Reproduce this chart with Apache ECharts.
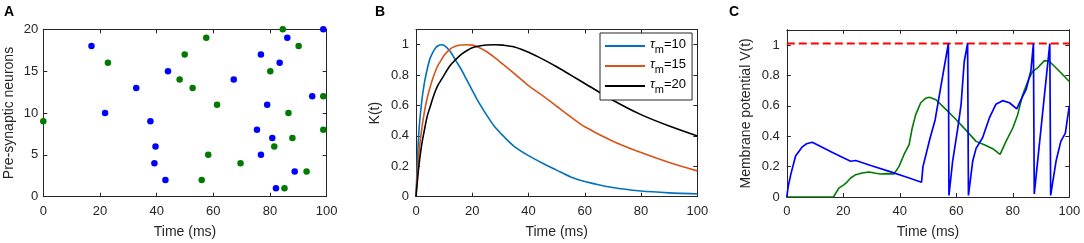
<!DOCTYPE html>
<html>
<head>
<meta charset="utf-8">
<script src="https://cdn.jsdelivr.net/npm/echarts@6/dist/echarts.min.js"></script>
<style>
  html, body { margin: 0; padding: 0; background: #fff; }
  #chart { width: 1084px; height: 243px; }
</style>
</head>
<body>
<div id="chart"></div>
<script>
  // ---- panel A: spike raster ----
  var blueSpikeT = [17, 21.8, 32.8, 37.8, 39.6, 39.2, 43.1, 44, 67.2, 76.8, 75.4, 79, 80.8, 76.8, 83.4, 86.1, 82.1, 88.7, 94.9, 98.8]
  var blueSpikeN = [18, 10, 13, 9, 6, 4, 2, 15, 14, 17, 8, 11, 7, 5, 16, 19, 1, 3, 12, 20]
  var greenSpikeT = [0, 22.8, 49.9, 48.1, 52.7, 57.5, 61.3, 58.2, 55.9, 69.6, 80.1, 84.5, 90.1, 86.5, 87.9, 81.5, 85.1, 92.9, 98.8, 98.8]
  var greenSpikeN = [9, 16, 17, 14, 13, 19, 11, 5, 2, 4, 15, 20, 18, 10, 7, 6, 1, 3, 12, 8]

  // ---- panel B: kernels ----
  var kernelT = [0, 1, 2, 3, 4, 5, 6, 7, 8, 9, 10, 12, 14, 16, 18, 20, 22, 25, 28, 31, 35, 40, 45, 50, 55, 60, 70, 80, 90, 100]
  var kernel10 = [0, 0.42, 0.62, 0.75, 0.84, 0.91, 0.95, 0.98, 0.995, 1.0, 0.995, 0.96, 0.9, 0.84, 0.77, 0.7, 0.63, 0.54, 0.46, 0.4, 0.33, 0.27, 0.22, 0.175, 0.13, 0.1, 0.06, 0.037, 0.025, 0.018]
  var kernel15 = [0, 0.28, 0.44, 0.56, 0.65, 0.72, 0.78, 0.83, 0.87, 0.9, 0.93, 0.97, 0.99, 0.998, 1.0, 0.997, 0.985, 0.955, 0.915, 0.87, 0.81, 0.73, 0.665, 0.595, 0.525, 0.46, 0.365, 0.29, 0.225, 0.17]
  var kernel20 = [0, 0.2, 0.34, 0.44, 0.53, 0.59, 0.65, 0.7, 0.74, 0.77, 0.8, 0.86, 0.9, 0.935, 0.96, 0.98, 0.99, 0.998, 1.0, 0.997, 0.985, 0.95, 0.905, 0.855, 0.8, 0.745, 0.635, 0.54, 0.465, 0.4]
  var kernelNames = ['τm=10', 'τm=15', 'τm=20']

  // ---- panel C: membrane potential ----
  var vBlueT = [0, 0.5, 1.4, 3.1, 5.5, 7, 9, 12, 16, 20, 22.6, 24.4, 30, 36, 42, 47.7, 48.2, 50.7, 52.5, 55.4, 57.2, 57.4, 58.7, 60.5, 61.7, 62.8, 64.0, 64.3, 65.8, 67, 69.3, 71.7, 74, 76.4, 78.8, 81.4, 82.9, 84.7, 86.4, 87.3, 87.6, 89.4, 91.2, 93.1, 93.4, 95.3, 97, 98.6, 100]
  var vBlue = [0, 0.07, 0.147, 0.27, 0.33, 0.35, 0.36, 0.332, 0.295, 0.258, 0.235, 0.24, 0.206, 0.17, 0.133, 0.097, 0.2, 0.386, 0.507, 0.82, 1.01, 0.01, 0.235, 0.45, 0.61, 0.89, 1.01, 0.01, 0.235, 0.32, 0.39, 0.52, 0.61, 0.634, 0.62, 0.58, 0.64, 0.706, 0.83, 1.01, 0.02, 0.344, 0.67, 1.01, 0.01, 0.235, 0.366, 0.42, 0.6]
  var vGreenT = [0, 16.5, 18.5, 20.2, 21.4, 22.6, 24.4, 26.7, 29.1, 31.5, 33.2, 35.6, 37.9, 39.7, 41.5, 43.3, 44.4, 45.6, 47.4, 49.2, 50.5, 52.8, 56.4, 59.9, 63.4, 67, 69.9, 72.9, 75.5, 77.6, 80, 81.7, 83.5, 85.3, 87, 88.8, 91.2, 92.9, 96.5, 100]
  var vGreen = [0, 0, 0.06, 0.08, 0.1, 0.125, 0.147, 0.158, 0.164, 0.156, 0.151, 0.154, 0.151, 0.2, 0.28, 0.344, 0.454, 0.54, 0.62, 0.65, 0.656, 0.64, 0.575, 0.51, 0.44, 0.366, 0.344, 0.318, 0.28, 0.366, 0.454, 0.54, 0.673, 0.76, 0.827, 0.85, 0.897, 0.893, 0.827, 0.76]
  var thresholdT = [0, 100]
  var threshold = [1.01, 1.01]

  var FONT = '"Liberation Sans", Arial, Helvetica, sans-serif'
  var AX = '#262626'

  function pairs(xs, ys) {
    var out = []
    for (var i = 0; i < xs.length; i++) {
      out.push([xs[i], ys[i]])
    }
    return out
  }

  // bottom/left axis with labels + top/right copy so the box has ticks on all sides
  function boxAxes(g, dim, min, max, interval, name, nameGap, labelMargin) {
    var main = {
      type: 'value', gridIndex: g, min: min, max: max, interval: interval,
      position: dim === 'x' ? 'bottom' : 'left',
      name: name, nameLocation: 'middle', nameGap: nameGap,
      nameTextStyle: {fontSize: 14, color: AX, fontFamily: FONT},
      axisLine: {show: true, onZero: false, lineStyle: {color: AX, width: 1}},
      axisTick: {show: true, inside: true, length: 4, lineStyle: {color: AX}},
      axisLabel: {fontSize: 13, color: AX, margin: labelMargin, fontFamily: FONT, showMaxLabel: max === 1.1 ? false : true},
      splitLine: {show: false}
    }
    var other = {
      type: 'value', gridIndex: g, min: min, max: max, interval: interval,
      position: dim === 'x' ? 'top' : 'right',
      axisLine: {show: true, onZero: false, lineStyle: {color: AX, width: 1}},
      axisTick: {show: true, inside: true, length: 4, lineStyle: {color: AX}},
      axisLabel: {show: false},
      splitLine: {show: false}
    }
    return [main, other]
  }

  var xAxes = [].concat(
    boxAxes(0, 'x', 0, 100, 20, 'Time (ms)', 28, 8),
    boxAxes(1, 'x', 0, 100, 20, 'Time (ms)', 28, 8),
    boxAxes(2, 'x', 0, 100, 20, 'Time (ms)', 28, 8)
  )
  var yAxes = [].concat(
    boxAxes(0, 'y', 0, 20, 5, 'Pre-synaptic neurons', 27, 5),
    boxAxes(1, 'y', 0, 1.1, 0.2, 'K(t)', 34, 7),
    boxAxes(2, 'y', 0, 1.1, 0.2, 'Membrane potential V(t)', 34, 7)
  )

  function kernelSeries(name, ys, color) {
    return {
      name: name, type: 'line', xAxisIndex: 2, yAxisIndex: 2,
      data: pairs(kernelT, ys), smooth: 0.3, symbol: 'none',
      lineStyle: {color: color, width: 1.6}, itemStyle: {color: color}
    }
  }

  var chart = echarts.init(document.getElementById('chart'), null, {renderer: 'canvas'})
  chart.setOption({
    animation: false,
    backgroundColor: '#fff',
    textStyle: {fontFamily: FONT},
    title: [
      {text: 'A', left: 4, top: 5, padding: 0, textStyle: {fontSize: 14, fontWeight: 'bold', color: '#000', fontFamily: FONT}},
      {text: 'B', left: 375, top: 5, padding: 0, textStyle: {fontSize: 14, fontWeight: 'bold', color: '#000', fontFamily: FONT}},
      {text: 'C', left: 729, top: 5, padding: 0, textStyle: {fontSize: 14, fontWeight: 'bold', color: '#000', fontFamily: FONT}}
    ],
    grid: [
      {left: 43.3, top: 29.3, width: 283.4, height: 167.4, containLabel: false, outerBoundsMode: 'none'},
      {left: 416, top: 29.5, width: 281.3, height: 167.2, containLabel: false, outerBoundsMode: 'none'},
      {left: 786.8, top: 29.8, width: 282.5, height: 167.2, containLabel: false, outerBoundsMode: 'none'}
    ],
    legend: {
      data: kernelNames,
      orient: 'vertical', left: 600, top: 33,
      padding: [5, 6, 5, 5],
      backgroundColor: '#fff', borderColor: AX, borderWidth: 1,
      itemWidth: 40, itemHeight: 2, itemGap: 3, icon: 'rect',
      formatter: function (name) {
        return '{t|τ}{s|m}{n|' + name.slice(2) + '}'
      },
      textStyle: {
        color: '#000', fontFamily: FONT,
        rich: {
          t: {fontSize: 13, lineHeight: 16, fontStyle: 'italic', verticalAlign: 'top', fontFamily: FONT},
          s: {fontSize: 11, lineHeight: 13, padding: [6, 0, 0, 0], verticalAlign: 'top', fontFamily: FONT},
          n: {fontSize: 13, lineHeight: 16, verticalAlign: 'top', fontFamily: FONT}
        }
      }
    },
    xAxis: xAxes,
    yAxis: yAxes,
    series: [
      {
        type: 'scatter', xAxisIndex: 0, yAxisIndex: 0, clip: false,
        data: pairs(blueSpikeT, blueSpikeN), symbolSize: 6.5,
        itemStyle: {color: '#0000ff', opacity: 1}
      },
      {
        type: 'scatter', xAxisIndex: 0, yAxisIndex: 0, clip: false,
        data: pairs(greenSpikeT, greenSpikeN), symbolSize: 6.5,
        itemStyle: {color: '#007a00', opacity: 1}
      },
      kernelSeries(kernelNames[0], kernel10, '#0072bd'),
      kernelSeries(kernelNames[1], kernel15, '#d95319'),
      kernelSeries(kernelNames[2], kernel20, '#000000'),
      {
        type: 'line', xAxisIndex: 4, yAxisIndex: 4, symbol: 'none',
        data: pairs(thresholdT, threshold),
        lineStyle: {color: '#ff0000', width: 2, type: [8, 4]}
      },
      {
        type: 'line', xAxisIndex: 4, yAxisIndex: 4, symbol: 'none',
        data: pairs(vGreenT, vGreen),
        lineStyle: {color: '#007a00', width: 1.6}
      },
      {
        type: 'line', xAxisIndex: 4, yAxisIndex: 4, symbol: 'none',
        data: pairs(vBlueT, vBlue),
        lineStyle: {color: '#0000ff', width: 1.7}
      }
    ]
  })
</script>
</body>
</html>
